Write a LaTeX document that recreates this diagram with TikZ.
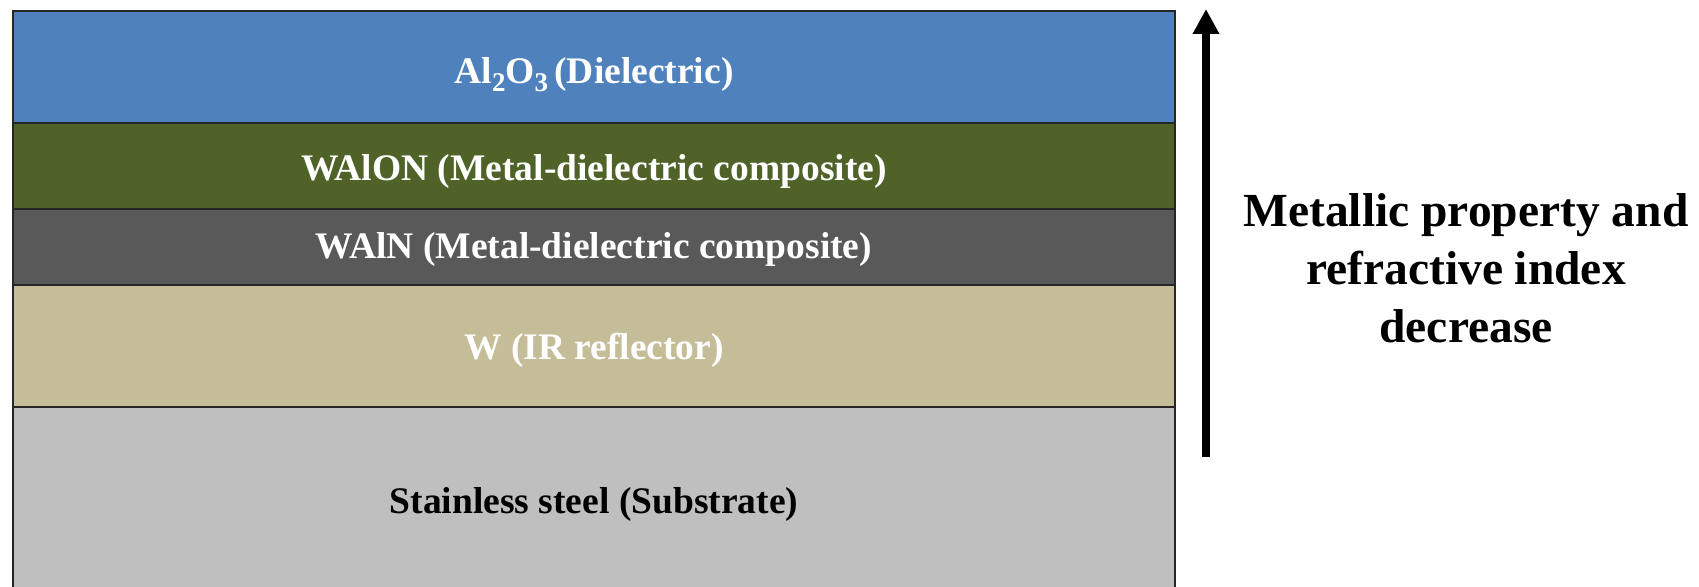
\documentclass[tikz,border=0pt]{standalone}
\usepackage{fontspec}
\setmainfont{Liberation Serif}
\usetikzlibrary{arrows.meta}
\definecolor{dielblue}{HTML}{4F81BD}
\definecolor{walongreen}{HTML}{4F6228}
\definecolor{walngray}{HTML}{595959}
\definecolor{wtan}{HTML}{C4BD97}
\definecolor{steelgray}{HTML}{BFBFBF}
% chemical-formula subscript, set large and well below the baseline
\newcommand\chemsub[1]{\raisebox{-8pt}{\fontsize{27}{30}\selectfont #1}}
\tikzset{
  layer/.style={draw=black!85, line width=1.2pt},
  layertext/.style={font=\fontsize{37.5}{44}\selectfont\bfseries, text=white, inner sep=0pt},
  sidetext/.style={font=\fontsize{47.5}{58}\selectfont\bfseries, align=center, inner sep=0pt},
}
\begin{document}
\begin{tikzpicture}[x=1pt,y=-1pt]
  \useasboundingbox (0,0) rectangle (1699,586);
  % layer stack, top to bottom
  \fill[steelgray] (13,407) rectangle (1175,590);
  \fill[wtan]      (13,285) rectangle (1175,407);
  \fill[walngray]  (13,209) rectangle (1175,285);
  \fill[walongreen](13,123) rectangle (1175,209);
  \fill[dielblue]  (13,11)  rectangle (1175,123);
  \draw[layer] (13,590) -- (13,11) -- (1175,11) -- (1175,590);
  \foreach \yy in {123,209,285,407} \draw[layer] (13,\yy) -- (1175,\yy);
  % layer labels
  \node[layertext, anchor=base] (al2o3) at (594,84) {Al\chemsub{2}O\chemsub{3}\,(Dielectric)};
  \node[layertext] (walon) at (594,171) {WAlON (Metal-dielectric composite)};
  \node[layertext] (waln) at (594,249) {WAlN (Metal-dielectric composite)};
  \node[layertext] (wrefl) at (594,350) {W (IR reflector)};
  \node[layertext, text=black] (steel) at (594,504) {Stainless steel (Substrate)};
  % trend arrow and its caption
  \coordinate (arrowfoot) at (1206,457);
  \coordinate (arrowtip) at (1206,9);
  \draw[line width=8pt, -{Triangle[length=25pt,width=25pt]}] (arrowfoot) -- (arrowtip);
  \node[sidetext] (trend) at (1466,268) {Metallic property and\\refractive index\\decrease};
\end{tikzpicture}
\end{document}
